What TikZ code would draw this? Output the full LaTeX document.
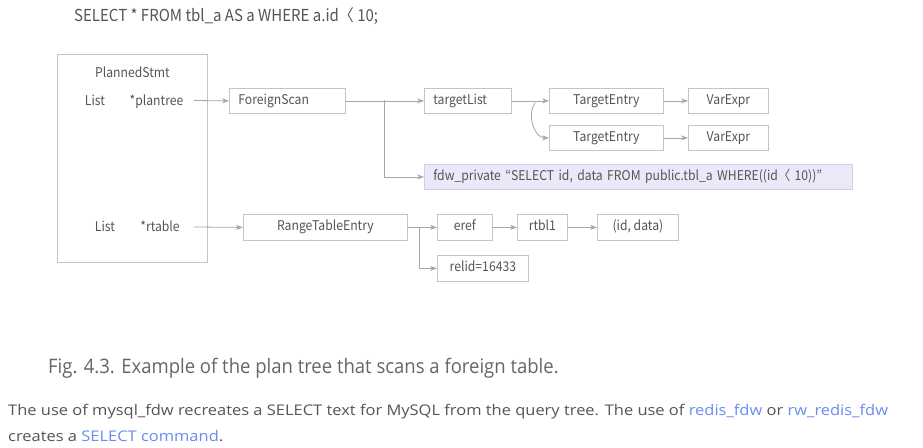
\documentclass[tikz,border=0pt]{standalone}
\usepackage{fontspec}
\usepackage{xcolor}
\usepackage{tikz}
\usetikzlibrary{arrows.meta}
\setmainfont{Open Sans}
\newfontfamily\jpfont[FakeStretch=0.91]{Noto Sans CJK JP}
\newfontfamily\capfont[FakeStretch=0.925]{Open Sans}
\newfontfamily\bodyfont[FakeStretch=1.12]{Open Sans}
\definecolor{txtgray}{HTML}{555555}
\definecolor{boxgray}{HTML}{C4C4C4}
\definecolor{arrgray}{HTML}{A6A6A6}
\definecolor{fdwfill}{HTML}{E9E9FA}
\definecolor{fdwline}{HTML}{CFCFEC}
\definecolor{linkblue}{HTML}{6A8CF2}

\begin{document}
\begin{tikzpicture}[x=1pt,y=-1pt,>={Stealth[length=7pt,width=5pt]},line cap=round,
  font=\jpfont\fontsize{13.4}{16}\selectfont,text=txtgray,
  box/.style={draw=boxgray,line width=0.8pt,anchor=north west,inner sep=0pt,minimum height=25pt,
    text height=10pt,text depth=3pt},
  lbox/.style={box,align=left,inner xsep=9pt,text width=#1},
  label/.style={anchor=base},
  link/.style={->,draw=arrgray,line width=0.8pt},
  captext/.style={font=\capfont\fontsize{20}{24}\selectfont,text=txtgray!90,anchor=base west,inner sep=0pt},
  bodytext/.style={font=\bodyfont\fontsize{14.7}{17}\selectfont,anchor=base west,inner sep=0pt}]
\useasboundingbox[fill=white] (0,0) rectangle (923,447);
\node[anchor=base west,inner sep=0pt,font=\jpfont\fontsize{16.5}{19}\selectfont] (sqltitle) at (74,21) {SELECT * FROM tbl\_a AS a WHERE a.id〈 10;};
% PlannedStmt
\node[box,minimum width=150pt,minimum height=208pt] (plst) at (57,54) {};
\node[label] (plname) at (132.5,77) {PlannedStmt};
\node[label] (ptlist) at (95,105) {List};
\node[label] (ptree) at (156.5,105) {*plantree};
\node[label] (rtlist) at (105,231) {List};
\node[label] (rtab) at (160,231) {*rtable};
\coordinate (ptreeout) at (194,100.5);
\coordinate (rtabout) at (194,227);
% plan tree
\node[lbox=98pt] (fscan) at (229,88) {ForeignScan};
\node[lbox=69pt] (tlist) at (424,88) {targetList};
\node[box,minimum width=114pt] (te1) at (549,88) {TargetEntry};
\node[box,minimum width=114pt] (te2) at (549,125) {TargetEntry};
\node[box,minimum width=80pt] (ve1) at (688,88) {VarExpr};
\node[box,minimum width=80pt] (ve2) at (688,125) {VarExpr};
\node[lbox=410pt,draw=fdwline,fill=fdwfill] (fdw) at (424,164) {\mbox{fdw\_private “SELECT id, data FROM public.tbl\_a WHERE((id〈 10))”}};
\coordinate (fsplit) at (384,100.5);
% range table
\node[box,minimum width=164pt,minimum height=26pt] (rte) at (243,214) {RangeTableEntry};
\node[box,minimum width=55pt,minimum height=26pt] (eref) at (437,214) {eref};
\node[box,minimum width=50pt,minimum height=26pt] (rtbl) at (517,214) {rtbl1};
\node[box,minimum width=81pt,minimum height=26pt] (iddata) at (597,214) {(id, data)};
\node[box,minimum width=91pt,minimum height=26pt] (relid) at (437,255) {relid=16433};
\coordinate (rsplit) at (419,227);
% connectors
\draw[link] (ptreeout) -- (fscan.west);
\draw[link] (fscan.east) -- (tlist.west);
\draw[link] (fsplit) |- (fdw.west);
\draw[link] (tlist.east) -- (te1.west);
\draw[link] ([xshift=-14pt,yshift=-2pt]te1.west) to[out=235,in=180] (te2.west);
\draw[link] (te1.east) -- (ve1.west);
\draw[link] (te2.east) -- (ve2.west);
\draw[link] (rtabout) -- (rte.west);
\draw[link] (rte.east) -- (eref.west);
\draw[link] (rsplit) |- (relid.west);
\draw[link] (eref.east) -- (rtbl.west);
\draw[link] (rtbl.east) -- (iddata.west);
% caption and text
\node[captext] (figcap) at (48,373) {Fig. 4.3. Example of the plan tree that scans a foreign table.};
\node[bodytext] (body1) at (8,415.7) {The use of mysql\_fdw recreates a SELECT text for MySQL from the query tree. The use of \textcolor{linkblue}{redis\_fdw} or \textcolor{linkblue}{rw\_redis\_fdw}};
\node[bodytext] (body2) at (8,441.7) {creates a \textcolor{linkblue}{SELECT command}.};
\end{tikzpicture}
\end{document}
